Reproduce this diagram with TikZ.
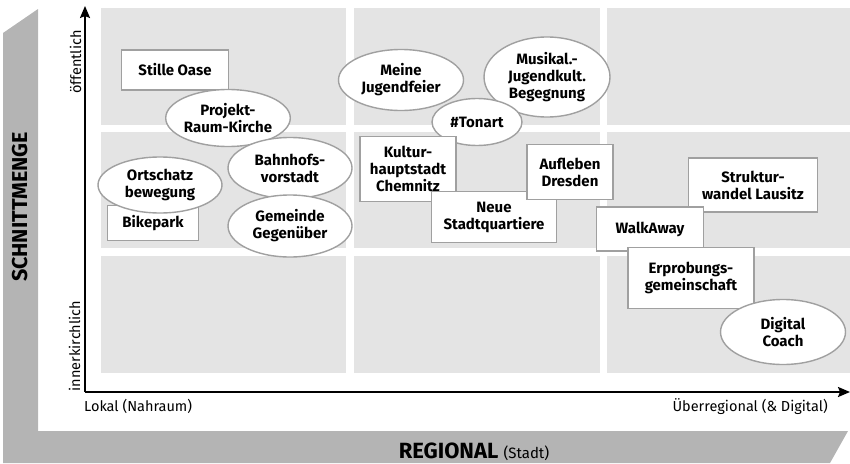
\documentclass[tikz,border=0pt]{standalone}
\usepackage{fontspec}
\setmainfont{Fira Sans}
\usetikzlibrary{shapes.geometric,arrows.meta}
\definecolor{strip}{HTML}{B4B4B4}
\definecolor{cellgray}{HTML}{E4E4E4}
\definecolor{rim}{HTML}{A0A0A0}
\tikzset{
  box/.style={draw=rim, line width=1.4pt, fill=white, inner sep=0pt, align=center,
    font=\bfseries\fontsize{15}{17}\selectfont},
  oval/.style={box, ellipse},
  axis/.style={line width=2pt, -{Stealth[length=12pt,width=10pt,inset=2pt]}},
  axlabel/.style={inner sep=0pt, font=\fontsize{14.5}{16}\selectfont},
}
\begin{document}
\begin{tikzpicture}[x=1pt,y=-1pt]
\useasboundingbox (0,0) rectangle (850,463);
% frame
\fill[strip] (3,33) -- (38,9) -- (38,431) -- (848,431) -- (830,463) -- (3,463) -- cycle;
% quadrant cells
\foreach \xa/\xb in {101/346, 354/600, 607/850}
{   \foreach \ya/\yb in {8/125, 132/248, 256/373}
    {   \fill[cellgray] (\xa,\ya) rectangle (\xb,\yb);
    }
}
% axes
\coordinate (origin) at (85,392);
\coordinate (ytop) at (85,6);
\coordinate (xend) at (850,392);
\draw[axis] (origin) -- (ytop);
\draw[axis] (origin) -- (xend);
\node[axlabel, rotate=90, anchor=base] (oeff) at (81,62) {öffentlich};
\node[axlabel, rotate=90, anchor=base] (innk) at (80,346) {innerkirchlich};
\node[axlabel, anchor=base west] (lokal) at (84,411) {Lokal (Nahraum)};
\node[axlabel, anchor=base east] (ueber) at (828,411) {Überregional (\& Digital)};
\node[inner sep=0pt, rotate=90, anchor=base, font=\bfseries\fontsize{21.5}{24}\selectfont] (schnitt) at (27,207) {SCHNITTMENGE};
\node[inner sep=0pt, anchor=base, font=\bfseries\fontsize{22}{24}\selectfont] (regional) at (474,458) {REGIONAL {\mdseries\fontsize{15}{16}\selectfont(Stadt)}};
% lokal
\node[box, minimum width=107pt, minimum height=40pt] (stille) at (175,70) {Stille Oase};
\node[oval, minimum width=124pt, minimum height=57pt] (projekt) at (228,118) {Projekt-\\Raum-Kirche};
\node[box, minimum width=91pt, minimum height=35pt] (bike) at (153,223) {Bikepark};
\node[oval, minimum width=124pt, minimum height=56pt] (ortschatz) at (160,185) {Ortschatz\\bewegung};
\node[oval, minimum width=124pt, minimum height=61pt] (bahnhof) at (290,168) {Bahnhofs-\\vorstadt};
\node[oval, minimum width=124pt, minimum height=62pt] (gemeinde) at (290,226) {Gemeinde\\Gegenüber};
% regional
\node[oval, minimum width=125pt, minimum height=61pt] (jugendfeier) at (401,80) {Meine\\Jugendfeier};
\node[oval, minimum width=126pt, minimum height=80pt] (musikal) at (547,77) {Musikal.-\\Jugendkult.\\Begegnung};
\node[oval, minimum width=90pt, minimum height=47pt] (tonart) at (477,122) {\#Tonart};
\node[box, minimum width=96pt, minimum height=65pt] (kultur) at (408,169) {Kultur-\\hauptstadt\\Chemnitz};
\node[box, minimum width=125pt, minimum height=51pt] (neue) at (494,217) {Neue\\Stadtquartiere};
\node[box, minimum width=86pt, minimum height=55pt] (aufleben) at (570,172) {Aufleben\\Dresden};
% ueberregional
\node[box, minimum width=129pt, minimum height=54pt] (struktur) at (753,185) {Struktur-\\wandel Lausitz};
\node[box, minimum width=107pt, minimum height=44pt] (walkaway) at (650,229) {WalkAway};
\node[box, minimum width=126pt, minimum height=61pt] (erprobung) at (691,278) {Erprobungs-\\gemeinschaft};
\node[oval, minimum width=125pt, minimum height=65pt] (digital) at (783,332) {Digital\\Coach};
\end{tikzpicture}
\end{document}
